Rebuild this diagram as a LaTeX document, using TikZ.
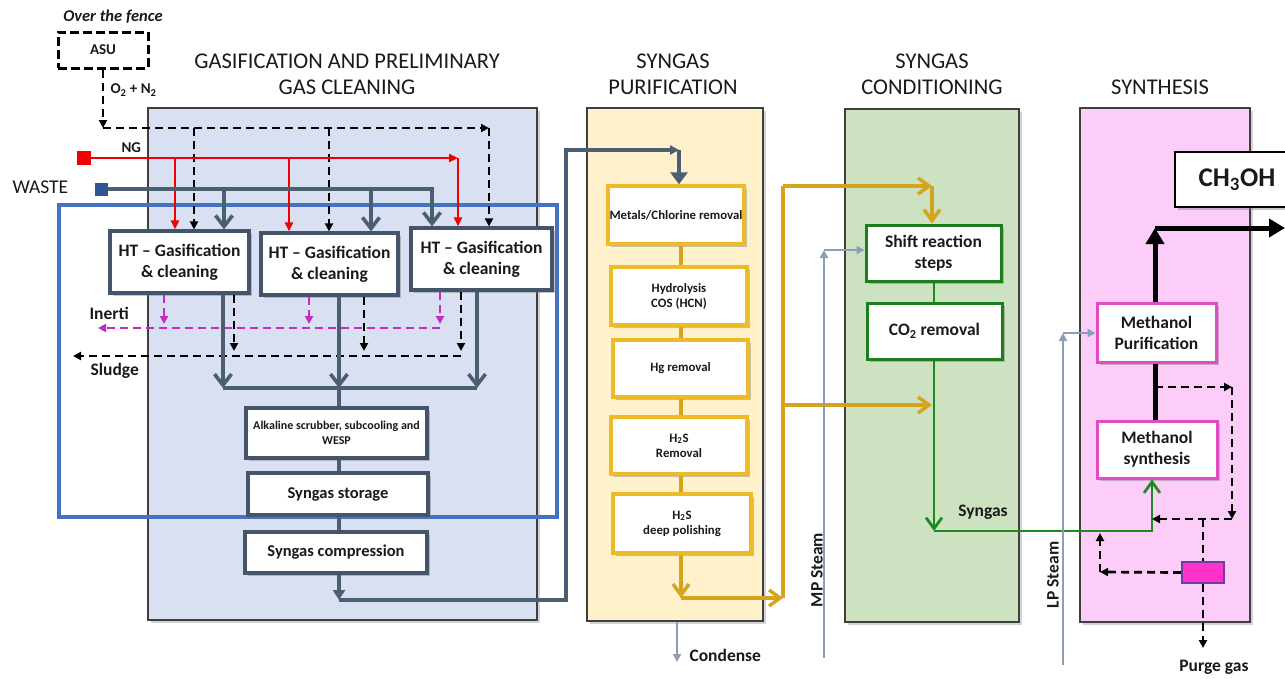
\documentclass[tikz,border=0pt]{standalone}
\usepackage{fontspec}
\setmainfont{Carlito}
\usetikzlibrary{arrows.meta,shadows}
\definecolor{slate}{HTML}{4B5F71}
\definecolor{slatebox}{HTML}{44546A}
\definecolor{gasfill}{HTML}{D8E0F1}
\definecolor{purfill}{HTML}{FFF1CC}
\definecolor{confill}{HTML}{CCE2C0}
\definecolor{synfill}{HTML}{FDCDFA}
\definecolor{panelline}{HTML}{3F3F3F}
\definecolor{frameblue}{HTML}{4472C4}
\definecolor{ngred}{HTML}{F00000}
\definecolor{wasteblue}{HTML}{2F5597}
\definecolor{goldln}{HTML}{D6A31E}
\definecolor{goldbox}{HTML}{EDBB27}
\definecolor{grn}{HTML}{1F8A1F}
\definecolor{grnbox}{HTML}{1E7E1E}
\definecolor{magbox}{HTML}{E14BC4}
\definecolor{inmag}{HTML}{C42AC4}
\definecolor{steam}{HTML}{8C9DB5}
\definecolor{purgefill}{HTML}{FF33CC}
\definecolor{purgeline}{HTML}{6B3FA0}
\definecolor{txt}{HTML}{1A1A1A}
\begin{document}
\begin{tikzpicture}[x=1pt,y=-1pt,
 every node/.style={text=txt},
 shd/.style={drop shadow={opacity=0.45,shadow xshift=2.5pt,shadow yshift=-2.5pt}},
 panel/.style={draw=panelline,line width=1.3pt,inner sep=0pt,drop shadow={opacity=0.35,shadow xshift=2.5pt,shadow yshift=-2.5pt}},
 boxbase/.style={fill=white,inner sep=0pt,align=center,shd},
 sbox/.style={boxbase,draw=slatebox,line width=3.2pt},
 gbox/.style={boxbase,draw=goldbox,line width=3.4pt,font=\bfseries\fontsize{12.8}{15}\selectfont},
 grbox/.style={boxbase,draw=grnbox,line width=3pt,font=\bfseries\fontsize{17.5}{21}\selectfont},
 mbox/.style={boxbase,draw=magbox,line width=3pt,font=\bfseries\fontsize{17.5}{21}\selectfont},
 hdr/.style={align=center,font=\fontsize{22.5}{26}\selectfont},
 lbl/.style={font=\bfseries\fontsize{17.5}{20}\selectfont},
 sln/.style={draw=slate,line width=3.6pt},
 rln/.style={draw=ngred,line width=2.8pt},
 gln/.style={draw=goldln,line width=3.5pt},
 grln/.style={draw=grn,line width=2.8pt},
 stln/.style={draw=steam,line width=2.5pt},
 bdash/.style={draw=black,line width=2.7pt,dash pattern=on 8pt off 5pt},
 mdash/.style={draw=inmag,line width=2.7pt,dash pattern=on 8pt off 5pt},
 blk/.style={draw=black,line width=5pt},
 slchev/.tip={Straight Barb[length=11pt,width=17pt]},
 gchev/.tip={Straight Barb[length=11pt,width=16pt]},
 stip/.tip={Triangle[length=8pt,width=8pt]},
 rtip/.tip={Triangle[length=9pt,width=8pt]},
 midtip/.tip={Triangle[length=10pt,width=12pt]},
 bigtip/.tip={Triangle[length=12pt,width=17pt]},
 blktip/.tip={Triangle[length=16pt,width=18pt]}
]
\useasboundingbox (0,0) rectangle (1285,678);

% panels
\node[panel,fill=gasfill,minimum width=389pt,minimum height=512pt] (pgas) at (342.5,364) {};
\node[panel,fill=purfill,minimum width=176pt,minimum height=513pt] (ppur) at (675,364.5) {};
\node[panel,fill=confill,minimum width=174pt,minimum height=513pt] (pcon) at (932,365.5) {};
\node[panel,fill=synfill,minimum width=170pt,minimum height=514pt] (psyn) at (1165,365) {};
\node[draw=frameblue,line width=3.8pt,minimum width=498pt,minimum height=312pt,inner sep=0pt] (frame) at (308,361) {};

% titles
\node[hdr] (t1) at (347,74) {GASIFICATION AND PRELIMINARY\\GAS CLEANING};
\node[hdr] (t2) at (673,74) {SYNGAS\\PURIFICATION};
\node[hdr] (t3) at (932,74) {SYNGAS\\CONDITIONING};
\node[hdr] (t4) at (1160,87) {SYNTHESIS};

% over the fence
\node[font=\bfseries\itshape\fontsize{16.5}{20}\selectfont] (otf) at (113,17) {Over the fence};
\node[draw=black,line width=3pt,dash pattern=on 9pt off 4pt,minimum width=90pt,minimum height=36pt,inner sep=0pt,font=\bfseries\fontsize{15}{18}\selectfont] (asu) at (103,50) {ASU};

% feed squares
\node[fill=ngred,minimum width=14pt,minimum height=14pt,inner sep=0pt] (ng) at (84,158) {};
\node[fill=wasteblue,minimum width=13pt,minimum height=13pt,inner sep=0pt] (waste) at (101,189) {};

% gasification boxes
\node[sbox,minimum width=139pt,minimum height=62pt,font=\bfseries\fontsize{17.5}{21}\selectfont] (b1) at (179.5,262) {HT -- Gasification\\\& cleaning};
\node[sbox,minimum width=137pt,minimum height=62pt,font=\bfseries\fontsize{17.5}{21}\selectfont] (b2) at (329.5,264) {HT -- Gasification\\\& cleaning};
\node[sbox,minimum width=141pt,minimum height=62pt,font=\bfseries\fontsize{17.5}{21}\selectfont] (b3) at (481.5,259) {HT -- Gasification\\\& cleaning};
\node[sbox,minimum width=181pt,minimum height=50pt,font=\bfseries\fontsize{12}{15}\selectfont] (alk) at (336.5,433) {Alkaline scrubber, subcooling and\\WESP};
\node[sbox,minimum width=180pt,minimum height=42pt,font=\bfseries\fontsize{16.5}{20}\selectfont] (sto) at (338,494) {Syngas storage};
\node[sbox,minimum width=182pt,minimum height=41pt,font=\bfseries\fontsize{16.5}{20}\selectfont] (cmp) at (336,552.5) {Syngas compression};

% purification boxes
\node[gbox,minimum width=136pt,minimum height=58pt] (met) at (676,215) {Metals/Chlorine removal};
\node[gbox,minimum width=136pt,minimum height=58pt] (hyd) at (679,296) {Hydrolysis\\COS (HCN)};
\node[gbox,minimum width=135pt,minimum height=57pt] (hg) at (680.5,368.5) {Hg removal};
\node[gbox,minimum width=136pt,minimum height=57pt] (h2s) at (679,445.5) {H\textsubscript{2}S\\Removal};
\node[gbox,minimum width=138pt,minimum height=59pt] (dp) at (682,523.5) {H\textsubscript{2}S\\deep polishing};

% conditioning boxes
\node[grbox,minimum width=135pt,minimum height=56pt] (shf) at (933.5,253) {Shift reaction\\steps};
\node[grbox,minimum width=135pt,minimum height=56pt] (co2) at (934.5,331) {CO\textsubscript{2} removal};

% synthesis boxes
\node[mbox,minimum width=119pt,minimum height=59pt] (mpu) at (1156.5,332.5) {Methanol\\Purification};
\node[mbox,minimum width=120pt,minimum height=57pt] (msy) at (1157,449.5) {Methanol\\synthesis};
\node[fill=purgefill,draw=purgeline,line width=1.8pt,minimum width=42pt,minimum height=21pt,inner sep=0pt] (pbox) at (1203,572.5) {};
\node[draw=black,line width=2pt,fill=white,minimum width=124pt,minimum height=55pt,inner sep=0pt,font=\bfseries\fontsize{27}{30}\selectfont,shd] (meoh) at (1237,179.5) {CH\textsubscript{3}OH};

% coordinates
\coordinate (oA) at (103,128); \coordinate (oB) at (489,128);
\coordinate (o1) at (194,128); \coordinate (o2) at (329,128);
\coordinate (r1) at (175,158); \coordinate (r2) at (289,158); \coordinate (rE) at (458,158);
\coordinate (w1) at (224,189); \coordinate (w2) at (371,189); \coordinate (wE) at (432,189);
\coordinate (s1) at (223,388); \coordinate (s2) at (339,388); \coordinate (s3) at (477,388);
\coordinate (i1) at (164,324); \coordinate (i2) at (309,324); \coordinate (i3) at (440,324);
\coordinate (iR) at (440,328); \coordinate (iL) at (98,328);
\coordinate (k1) at (234,351); \coordinate (k2) at (364,351); \coordinate (k3) at (461,351);
\coordinate (kR) at (461,356); \coordinate (kL) at (73,356);
\coordinate (c1) at (339,600); \coordinate (c2) at (566,600); \coordinate (c3) at (566,150); \coordinate (c4) at (679,150);
\coordinate (g1) at (681,598); \coordinate (g2) at (783,598); \coordinate (g3) at (783,186); \coordinate (g4) at (932,186);
\coordinate (g5) at (783,405); \coordinate (g6) at (932,405);
\coordinate (e1) at (934,531); \coordinate (e2) at (1152,531);
\coordinate (m0) at (824,658); \coordinate (m1) at (824,250);
\coordinate (l0) at (1063,665); \coordinate (l1) at (1063,333);
\coordinate (cd) at (677,662);
\coordinate (p1) at (1155,228); \coordinate (p2) at (1285,228);
\coordinate (q1) at (1155,387); \coordinate (q2) at (1232,387); \coordinate (q3) at (1232,519);
\coordinate (q4) at (1203,519); \coordinate (q5) at (1100,572); \coordinate (q6) at (1100,533);
\coordinate (q7) at (1203,648);

% ASU oxygen
\draw[bdash,-{stip}] (asu.south) -- (oA);
\draw[bdash,-{stip}] (oA) -- (oB);
\draw[bdash,-{stip}] (oB) -- (oB |- b3.north);
\draw[bdash,-{stip}] (o1) -- (o1 |- b1.north);
\draw[bdash,-{stip}] (o2) -- (o2 |- b2.north);

% NG
\draw[rln,-{rtip}] (ng.east) -- (rE);
\draw[rln,-{rtip}] (rE) -- (rE |- b3.north);
\draw[rln,-{rtip}] (r1) -- (r1 |- b1.north);
\draw[rln,-{rtip}] (r2) -- (r2 |- b2.north);

% waste
\draw[sln,-{slchev}] (waste.east) -- (wE) -- (wE |- b3.north);
\draw[sln,-{slchev}] (w1) -- (w1 |- b1.north);
\draw[sln,-{slchev}] (w2) -- (w2 |- b2.north);

% inerti
\draw[mdash,-{stip}] (i1 |- b1.south) -- (i1);
\draw[mdash,-{stip}] (i2 |- b2.south) -- (i2);
\draw[mdash,-{stip}] (i3 |- b3.south) -- (i3);
\draw[mdash,-{stip}] (iR) -- (iL);

% sludge
\draw[bdash,-{stip}] (k1 |- b1.south) -- (k1);
\draw[bdash,-{stip}] (k2 |- b2.south) -- (k2);
\draw[bdash,-{stip}] (k3 |- b3.south) -- (k3);
\draw[bdash,-{stip}] (kR) -- (kL);

% syngas collection
\draw[sln,-{slchev}] (s1 |- b1.south) -- (s1);
\draw[sln,-{slchev}] (s2 |- b2.south) -- (s2);
\draw[sln,-{slchev}] (s3 |- b3.south) -- (s3);
\draw[sln] (s1) -- (s3);
\draw[sln] (s2) -- (s2 |- alk.north);
\draw[sln] (s2 |- alk.south) -- (s2 |- sto.north);
\draw[sln] (s2 |- sto.south) -- (s2 |- cmp.north);
\draw[sln,-{midtip}] (s2 |- cmp.south) -- (c1);
\draw[sln,-{Triangle[length=9pt,width=9pt]}] (c1) -- (c2) -- (c3) -- (c4);
\draw[sln,-{bigtip}] (c4) -- (c4 |- met.north);

% purification chain
\draw[gln] (g1 |- met.south) -- (g1 |- hyd.north);
\draw[gln] (g1 |- hyd.south) -- (g1 |- hg.north);
\draw[gln] (g1 |- hg.south) -- (g1 |- h2s.north);
\draw[gln] (g1 |- h2s.south) -- (g1 |- dp.north);
\draw[gln,-{gchev}] (g1 |- dp.south) -- (g1);
\draw[gln,-{gchev}] (g1) -- (g2);
\draw[gln] (g2) -- (g3);
\draw[gln,-{gchev}] (g3) -- (g4);
\draw[gln,-{gchev}] (g4) -- (g4 |- shf.north);
\draw[gln,-{gchev}] (g5) -- (g6);

% condense
\draw[stln,-{Triangle[length=8pt,width=8pt]}] (cd |- ppur.south) -- (cd);

% conditioning
\draw[grln] (e1 |- shf.south) -- (e1 |- co2.north);
\draw[grln,-{gchev}] (e1 |- co2.south) -- (e1);
\draw[grln,-{gchev}] (e1) -- (e2) -- (e2 |- msy.south);

% steam
\draw[stln,-{Triangle[length=8pt,width=8pt]}] (m0) -- (m1);
\draw[stln,-{Triangle[length=8pt,width=8pt]}] (m1) -- (m1 -| shf.west);
\draw[stln,-{Triangle[length=8pt,width=8pt]}] (l0) -- (l1);
\draw[stln,-{Triangle[length=8pt,width=8pt]}] (l1) -- (l1 -| mpu.west);

% methanol
\draw[blk] (p1 |- msy.north) -- (p1 |- mpu.south);
\draw[blk,-{blktip}] (p1 |- mpu.north) -- (p1);
\draw[blk,-{blktip}] (p1) -- (p2);

% purge loop
\draw[bdash,-{stip}] (q1) -- (q2);
\draw[bdash,-{stip}] (q2) -- (q3);
\draw[bdash,-{stip}] (q3) -- (e2 |- q3);
\draw[bdash] (q4) -- (q4 |- pbox.north);
\draw[bdash,-{stip}] (pbox.west) -- (q5);
\draw[bdash,-{stip}] (q5) -- (q6);
\draw[bdash,-{stip}] (pbox.south) -- (q7);

% labels
\node[font=\bfseries\fontsize{15}{18}\selectfont,anchor=west] (lo2) at (107,90) {O\textsubscript{2} + N\textsubscript{2}};
\node[font=\bfseries\fontsize{15}{18}\selectfont,anchor=west] (lng) at (118,148) {NG};
\node[font=\fontsize{19.5}{22}\selectfont,anchor=west] (lwaste) at (9,187) {WASTE};
\node[lbl,anchor=west] (lin) at (86,313) {Inerti};
\node[lbl,anchor=west] (lsl) at (87,371) {Sludge};
\node[lbl,anchor=west] (lcd) at (686,655) {Condense};
\node[lbl] (lsy) at (983,512) {Syngas};
\node[lbl] (lpg) at (1214,667) {Purge gas};
\node[lbl,rotate=90] (lmp) at (817,570) {MP Steam};
\node[lbl,rotate=90] (llp) at (1053,575) {LP Steam};
\end{tikzpicture}
\end{document}
